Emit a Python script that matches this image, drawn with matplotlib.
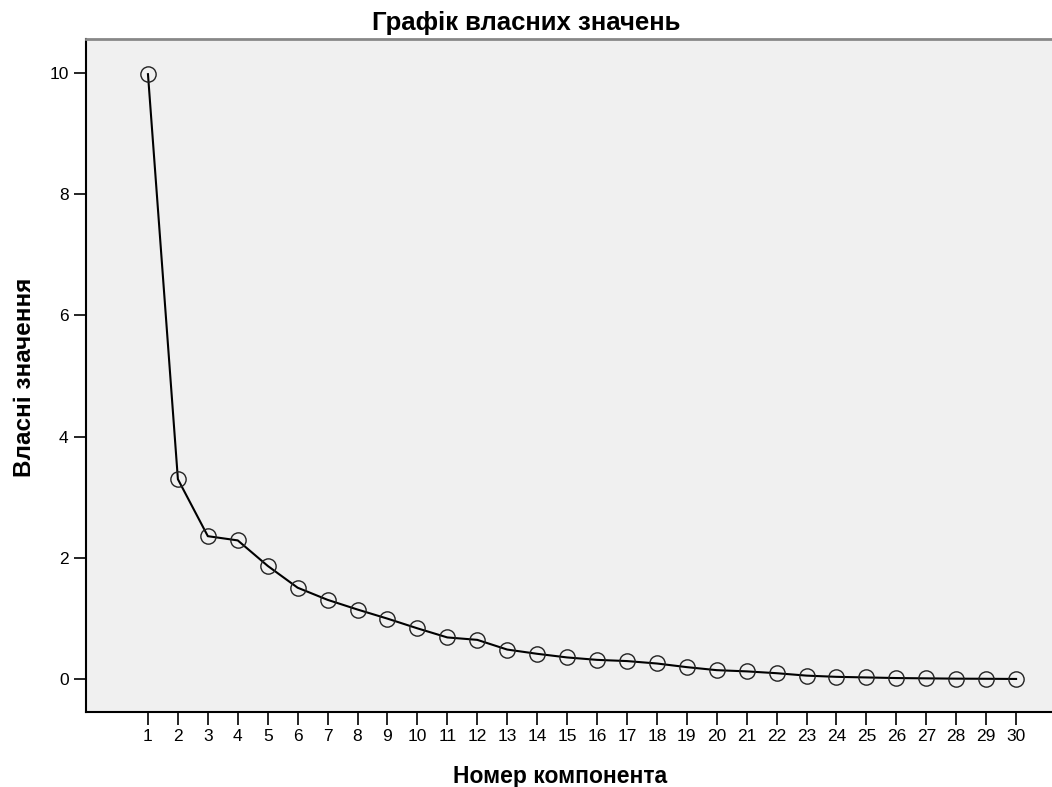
import numpy as np
import matplotlib.pyplot as plt

plt.rcParams['font.family'] = ['Liberation Sans', 'DejaVu Sans']

# Scree plot data
components = np.arange(1, 31)
eigenvalues = [9.98, 3.30, 2.36, 2.29, 1.87, 1.51, 1.31, 1.15, 1.00, 0.84,
               0.69, 0.65, 0.49, 0.42, 0.36, 0.32, 0.30, 0.26, 0.20, 0.15,
               0.13, 0.10, 0.06, 0.04, 0.03, 0.02, 0.015, 0.01, 0.008, 0.005]
y_ticks = [0, 2, 4, 6, 8, 10]

W, H = 1052, 787
fig = plt.figure(figsize=(W / 100, H / 100), dpi=100)
ax = fig.add_axes([86 / W, 75 / H, 966 / W, 673 / H])
ax.set_facecolor('#f0f0f0')

ax.plot(components, eigenvalues, color='black', linewidth=1.5,
        marker='o', markersize=11, markerfacecolor='none',
        markeredgecolor='#222222', markeredgewidth=1.0)

ax.set_xlim(-1.07, 31.2)
ax.set_ylim(-0.54, 10.56)
ax.set_xticks(components)
ax.set_yticks(y_ticks)
ax.tick_params(axis='both', direction='out', length=9, width=1.2,
               labelsize=12.5, colors='black')

for s in ['left', 'bottom']:
    ax.spines[s].set_color('black')
    ax.spines[s].set_linewidth(1.5)
ax.spines['top'].set_color('#888888')
ax.spines['top'].set_linewidth(2)
ax.spines['right'].set_visible(False)

# titles placed in figure coords (SPSS layout)
fig.text(526 / W, 1 - 30 / H, 'Графік власних значень', fontsize=18.5,
         fontweight='bold', ha='center', va='baseline')
fig.text(560 / W, 1 - 783 / H, 'Номер компонента', fontsize=16.5,
         fontweight='bold', ha='center', va='baseline')
fig.text(25 / W, 1 - 377 / H, 'Власні значення', fontsize=17.5,
         fontweight='bold', ha='center', va='center', rotation=90)

fig.savefig('out.png', dpi=100)
